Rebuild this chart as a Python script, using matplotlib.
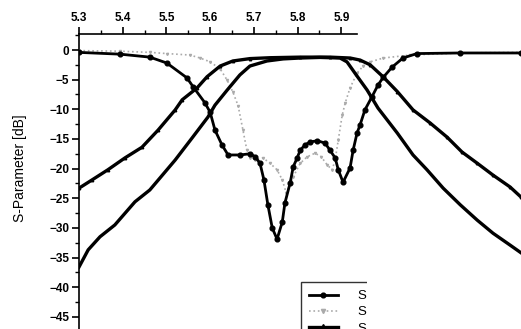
import matplotlib
matplotlib.use("Agg")
import matplotlib.pyplot as plt
from matplotlib.ticker import MultipleLocator
from matplotlib.transforms import Bbox, TransformedBbox

# S11 measured (circles)
f_s11m = [5.300, 5.394, 5.462, 5.501, 5.547, 5.561, 5.588, 5.600, 5.611, 5.627,
          5.641, 5.668, 5.691, 5.703, 5.714, 5.723, 5.732, 5.742, 5.753, 5.765,
          5.771, 5.783, 5.790, 5.799, 5.806, 5.817, 5.829, 5.845, 5.863, 5.874,
          5.886, 5.893, 5.904, 5.920, 5.927, 5.936, 5.943, 5.954, 5.970, 5.984,
          5.996, 6.016, 6.041, 6.073, 6.172, 6.311]
s11m = [-0.4, -0.7, -1.2, -2.2, -4.7, -6.2, -8.9, -10.5, -13.5, -16.0,
        -17.7, -17.7, -17.5, -18.0, -19.1, -21.9, -26.1, -30.0, -31.9, -29.0,
        -25.8, -22.4, -19.7, -18.2, -16.9, -16.0, -15.5, -15.3, -15.7, -16.9,
        -18.2, -20.2, -22.3, -19.9, -16.9, -14.0, -12.6, -10.1, -7.9, -5.9,
        -4.6, -2.9, -1.35, -0.6, -0.5, -0.5]

# S11 simulated (gray dotted)
f_s11s = [5.300, 5.394, 5.462, 5.501, 5.554, 5.577, 5.600, 5.623, 5.639, 5.652,
          5.664, 5.675, 5.684, 5.691, 5.703, 5.721, 5.737, 5.753, 5.765, 5.774,
          5.783, 5.790, 5.806, 5.822, 5.840, 5.854, 5.868, 5.879, 5.886, 5.893,
          5.902, 5.909, 5.920, 5.936, 5.950, 5.966, 5.996, 6.057, 6.172, 6.311]
s11s = [-0.1, -0.2, -0.4, -0.6, -0.85, -1.35, -2.0, -3.2, -5.1, -7.1,
        -9.4, -13.5, -16.9, -18.2, -18.5, -18.2, -19.1, -20.2, -21.9, -24.1,
        -22.6, -21.4, -19.1, -18.0, -17.4, -18.0, -19.4, -20.2, -18.5, -15.2,
        -11.0, -8.9, -6.4, -3.9, -2.7, -2.0, -1.35, -0.85, -0.5, -0.4]

# S21 (wide skirts)
f_s21a = [5.300, 5.330, 5.366, 5.405, 5.444, 5.481, 5.520, 5.536, 5.570, 5.593,
          5.623, 5.652, 5.691, 5.737, 5.806, 5.874, 5.920, 5.943, 5.966, 5.996,
          6.028, 6.064, 6.103, 6.142, 6.176, 6.211, 6.247, 6.286, 6.311]
s21a = [-23.3, -21.9, -20.2, -18.2, -16.4, -13.5, -10.1, -8.4, -6.4, -4.5,
        -2.7, -1.85, -1.45, -1.3, -1.2, -1.2, -1.35, -1.7, -2.5, -4.55,
        -7.0, -10.1, -12.3, -14.7, -17.2, -19.1, -21.1, -23.1, -24.8]

# S21 (narrow skirts)
f_s21b = [5.300, 5.321, 5.348, 5.382, 5.428, 5.462, 5.485, 5.520, 5.559, 5.595,
          5.611, 5.639, 5.668, 5.691, 5.730, 5.767, 5.806, 5.851, 5.897, 5.913,
          5.936, 5.959, 5.984, 6.028, 6.064, 6.096, 6.133, 6.172, 6.211, 6.247,
          6.286, 6.311]
s21b = [-36.6, -33.7, -31.5, -29.5, -25.6, -23.6, -21.6, -18.55, -14.8, -11.3,
        -9.3, -6.75, -4.2, -2.7, -1.85, -1.5, -1.35, -1.25, -1.35, -2.0,
        -4.4, -6.75, -9.8, -14.0, -17.7, -20.2, -23.3, -26.1, -28.7, -30.9,
        -32.9, -34.2]

labels = ["S11 Measurement", "S11 Simulation", "S21 Measurement", "S21 Simulation"]

plt.rcParams['font.family'] = ['Liberation Sans', 'DejaVu Sans']

fig = plt.figure(figsize=(5.21, 3.29), dpi=100)
ax = fig.add_axes([79 / 521, 0, 442 / 521, 295 / 329])

ax.plot(f_s11m, s11m, '-o', color='black', lw=2.0, ms=3.4, label=labels[0], zorder=4)
ax.plot(f_s11s, s11s, ':', color='#aaaaaa', lw=1.2, marker='v', ms=1.5,
        label=labels[1], zorder=3)
ax.plot(f_s21a, s21a, '-', color='black', lw=2.4, marker='^', ms=1.8,
        label=labels[2], zorder=3)
ax.plot(f_s21b, s21b, '-', color='black', lw=2.4, label=labels[3], zorder=3)

ax.set_xlim(5.3, 6.311)
ax.set_ylim(-47.05, 2.7)

ax.spines['bottom'].set_visible(False)
ax.spines['right'].set_visible(False)
ax.spines['top'].set_bounds(5.3, 5.937)
ax.spines['top'].set_linewidth(1.2)
ax.spines['left'].set_linewidth(1.2)

ax.xaxis.set_ticks_position('top')
ax.xaxis.set_label_position('top')
ax.set_xticks([5.3, 5.4, 5.5, 5.6, 5.7, 5.8, 5.9])
ax.set_xticks([5.35, 5.45, 5.55, 5.65, 5.75, 5.85], minor=True)
ax.yaxis.set_major_locator(MultipleLocator(5))
ax.yaxis.set_minor_locator(MultipleLocator(2.5))
ax.tick_params(axis='both', which='major', direction='out', length=5, width=1.2,
               labelsize=8.5, pad=2)
ax.tick_params(axis='both', which='minor', direction='out', length=3, width=1)
for lab in ax.get_xticklabels() + ax.get_yticklabels():
    lab.set_fontweight('bold')

fig.text(20 / 521, 1 - 168 / 329, "S-Parameter [dB]", rotation=90,
         ha='center', va='center', fontsize=10)

leg = ax.legend(loc='upper left', bbox_to_anchor=(301 / 521, 1 - 282 / 329),
                bbox_transform=fig.transFigure, fontsize=9.5, frameon=True,
                fancybox=False, edgecolor='black', handlelength=2.2,
                borderpad=0.6, borderaxespad=0, labelspacing=0.3,
                handletextpad=1.5)
leg.get_frame().set_linewidth(1.0)
leg.legend_handles[1].set_markersize(3)
leg.legend_handles[2].set_markersize(4.5)

# the scanned figure is cut off right of the legend's first letters
clip = TransformedBbox(Bbox([[0, 0], [367 / 521, 1]]), fig.transFigure)
for art in [leg.get_frame()] + leg.get_texts():
    art.set_clip_box(clip)
    art.set_clip_on(True)

fig.savefig("out.png", dpi=100)
